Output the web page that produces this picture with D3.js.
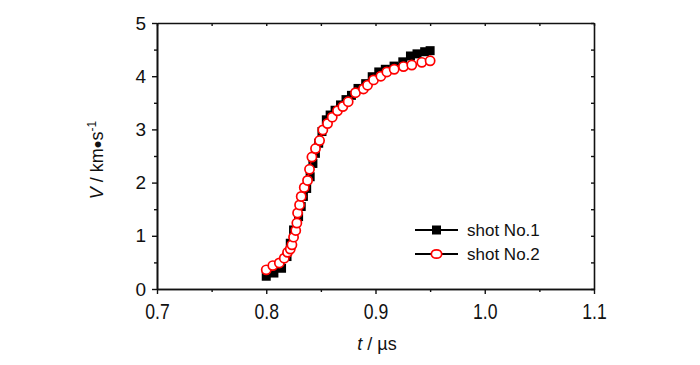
<!DOCTYPE html>
<html>
<head>
<meta charset="utf-8">
<script src="https://cdn.jsdelivr.net/npm/d3@7"></script>
<style>
  body { margin: 0; background: #fff; }
  text { font-family: "Liberation Sans", Arial, sans-serif; fill: #111; }
</style>
</head>
<body>
<div id="chart"></div>
<script>
// Data
var shot1T = [0.800, 0.807, 0.814, 0.819, 0.822, 0.825, 0.8296, 0.832, 0.834, 0.837, 0.8402, 0.8427, 0.845, 0.848, 0.851, 0.855, 0.8585, 0.863, 0.868, 0.873, 0.878, 0.884, 0.891, 0.897, 0.903, 0.909, 0.917, 0.925, 0.932, 0.938, 0.945, 0.950];
var shot1V = [0.24, 0.30, 0.39, 0.61, 0.86, 1.11, 1.36, 1.55, 1.74, 1.89, 2.11, 2.36, 2.55, 2.74, 2.96, 3.18, 3.27, 3.36, 3.46, 3.56, 3.64, 3.77, 3.86, 3.99, 4.08, 4.13, 4.19, 4.27, 4.38, 4.42, 4.46, 4.48];
var shot2T = [0.800, 0.806, 0.812, 0.8165, 0.8195, 0.822, 0.8235, 0.825, 0.827, 0.828, 0.8287, 0.8305, 0.832, 0.8348, 0.8378, 0.8396, 0.8418, 0.8451, 0.8488, 0.8518, 0.8561, 0.8604, 0.8652, 0.8701, 0.875, 0.8817, 0.889, 0.8927, 0.8982, 0.9049, 0.9104, 0.9171, 0.9256, 0.9332, 0.9424, 0.950];
var shot2V = [0.36, 0.44, 0.49, 0.58, 0.69, 0.75, 0.83, 0.975, 1.10, 1.24, 1.43, 1.58, 1.74, 1.91, 2.04, 2.25, 2.48, 2.64, 2.79, 2.99, 3.11, 3.23, 3.35, 3.43, 3.52, 3.69, 3.76, 3.83, 3.93, 4.00, 4.08, 4.13, 4.18, 4.21, 4.26, 4.29];
var xTicks = [0.7, 0.8, 0.9, 1.0, 1.1];
var xMinor = [0.75, 0.85, 0.95, 1.05];
var yTicks = [0, 1, 2, 3, 4, 5];
var yMinor = [0.5, 1.5, 2.5, 3.5, 4.5];
var seriesNames = ['shot No.1', 'shot No.2'];

var margin = {top: 23, right: 106, bottom: 76, left: 157},
    width = 700 - margin.left - margin.right,
    height = 365 - margin.top - margin.bottom;

var svg = d3.select('#chart').append('svg')
    .attr('width', 700)
    .attr('height', 365);
var g = svg.append('g')
    .attr('transform', 'translate(' + margin.left + ',' + margin.top + ')');

var x = d3.scaleLinear().domain([0.7, 1.1]).range([0, width]);
var y = d3.scaleLinear().domain([0, 5]).range([height, 0]);

function styleAxis(sel) {
    sel.select('.domain').attr('stroke', '#111').attr('stroke-width', 1.6);
    sel.selectAll('.tick line').attr('stroke', '#111').attr('stroke-width', 1.4);
}

// bottom axis
var xAx = g.append('g')
    .attr('transform', 'translate(0,' + height + ')')
    .call(d3.axisBottom(x).tickValues(xTicks).tickSize(5).tickSizeOuter(0).tickPadding(9)
        .tickFormat(d3.format('.1f')));
styleAxis(xAx);
xAx.selectAll('text')
    .attr('font-size', '22px')
    .attr('font-family', '"Liberation Sans", Arial, sans-serif')
    .attr('transform', 'scale(0.8,1)');
var xMin = g.append('g')
    .attr('transform', 'translate(0,' + height + ')')
    .call(d3.axisBottom(x).tickValues(xMinor).tickSize(3).tickSizeOuter(0).tickFormat(''));
styleAxis(xMin);

// top axis (mirrored, inward)
var xTop = g.append('g')
    .call(d3.axisBottom(x).tickValues(xTicks.concat(xMinor)).tickSize(3).tickSizeOuter(0).tickFormat(''));
styleAxis(xTop);

// left axis
var yAx = g.append('g')
    .call(d3.axisLeft(y).tickValues(yTicks).tickSize(5).tickSizeOuter(0).tickPadding(6)
        .tickFormat(d3.format('d')));
styleAxis(yAx);
yAx.selectAll('text')
    .attr('font-size', '19px')
    .attr('font-family', '"Liberation Sans", Arial, sans-serif');
var yMin = g.append('g')
    .call(d3.axisLeft(y).tickValues(yMinor).tickSize(3).tickSizeOuter(0).tickFormat(''));
styleAxis(yMin);

// right axis (mirrored, inward)
var yRight = g.append('g')
    .attr('transform', 'translate(' + width + ',0)')
    .call(d3.axisLeft(y).tickValues(yTicks.concat(yMinor)).tickSize(3).tickSizeOuter(0).tickFormat(''));
styleAxis(yRight);

// axis titles
var xt = svg.append('text')
    .attr('x', 377)
    .attr('y', 350)
    .attr('text-anchor', 'middle')
    .attr('font-size', '18px');
xt.append('tspan').attr('font-style', 'italic').text('t');
xt.append('tspan').text(' / \u00b5s');

var yt = svg.append('text')
    .attr('text-anchor', 'middle')
    .attr('font-size', '18px')
    .attr('transform', 'translate(103,160)rotate(-90)');
yt.append('tspan').attr('font-style', 'italic').text('V');
yt.append('tspan').text(' / km');
yt.append('tspan').attr('font-size', '22px').attr('dy', '2').text('\u2022');
yt.append('tspan').attr('dy', '-2').text('s');
yt.append('tspan').attr('font-size', '12px').attr('dy', '-7').text('-1');

// series
var s1 = shot1T.map(function(t, i) { return {t: t, v: shot1V[i]}; });
var s2 = shot2T.map(function(t, i) { return {t: t, v: shot2V[i]}; });

var line = d3.line()
    .x(function(d) { return x(d.t); })
    .y(function(d) { return y(d.v); });

g.append('path').datum(s1)
    .attr('d', line).attr('fill', 'none').attr('stroke', '#000').attr('stroke-width', 1.2);

g.selectAll('.sq')
    .data(s1)
    .enter()
    .append('rect')
    .attr('class', 'sq')
    .attr('x', function(d) { return x(d.t) - 4.5; })
    .attr('y', function(d) { return y(d.v) - 4.5; })
    .attr('width', 9)
    .attr('height', 9)
    .style('fill', '#000');

g.append('path').datum(s2)
    .attr('d', line).attr('fill', 'none').attr('stroke', '#e00').attr('stroke-width', 1.2);

g.selectAll('.ci')
    .data(s2)
    .enter()
    .append('circle')
    .attr('class', 'ci')
    .attr('cx', function(d) { return x(d.t); })
    .attr('cy', function(d) { return y(d.v); })
    .attr('r', 4.6)
    .style('fill', '#fff')
    .style('stroke', '#f00')
    .style('stroke-width', 1.7);

// Legend
var legend_x = 415, legend_y = 230, row = 24, len = 43;
var legend = svg.append('g');
seriesNames.forEach(function(name, i) {
    var ly = legend_y + i * row;
    legend.append('line')
        .attr('x1', legend_x).attr('x2', legend_x + len)
        .attr('y1', ly).attr('y2', ly)
        .attr('stroke', '#000').attr('stroke-width', 2);
    if (i == 0) {
        legend.append('rect')
            .attr('x', legend_x + len / 2 - 4.5).attr('y', ly - 4.5)
            .attr('width', 9).attr('height', 9)
            .style('fill', '#000');
    } else {
        legend.append('ellipse')
            .attr('cx', legend_x + len / 2).attr('cy', ly)
            .attr('rx', 5.2).attr('ry', 4.2)
            .style('fill', '#fff').style('stroke', '#f00').style('stroke-width', 1.7);
    }
    legend.append('text')
        .text(name)
        .attr('x', legend_x + len + 9)
        .attr('y', ly + 6)
        .attr('font-size', '17px');
});
</script>
</body>
</html>
